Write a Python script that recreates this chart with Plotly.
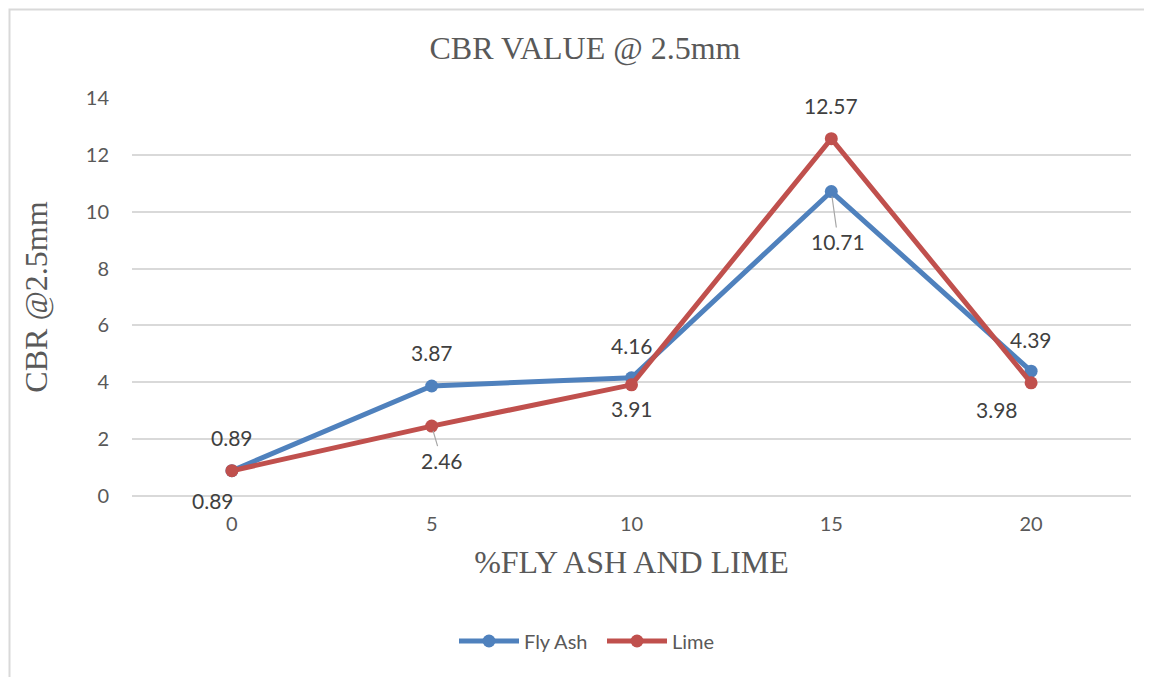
import plotly.graph_objects as go

categories = ["0", "5", "10", "15", "20"]
fly_ash = [0.89, 3.87, 4.16, 10.71, 4.39]
lime = [0.89, 2.46, 3.91, 12.57, 3.98]
y_ticks = [0, 2, 4, 6, 8, 10, 12, 14]

BLUE = "#4F81BD"
RED = "#C0504D"
TXT = "#595959"
LBL = "#404040"
SANS = "Lato, 'Open Sans', sans-serif"
SERIF = "'Liberation Serif', 'Times New Roman', serif"

OFF = 7  # page body offset
W, H = 1152, 677
PW, PH = 999, 398
ML, MT = 131 - OFF, 97 - OFF
MR, MB = W - ML - PW, H - MT - PH

fig = go.Figure()
fig.add_trace(go.Scatter(x=categories, y=fly_ash, name="Fly Ash", mode="lines+markers",
                         line=dict(color=BLUE, width=5), marker=dict(size=13, color=BLUE)))
fig.add_trace(go.Scatter(x=categories, y=lime, name="Lime", mode="lines+markers",
                         line=dict(color=RED, width=5), marker=dict(size=13, color=RED)))

# label offsets (xshift, yshift) or leader lines (ax, ay)
fa_style = [("s", 0, 33), ("s", 0, 33), ("s", 0, 32), ("a", 7, 50), ("s", 0, 32)]
li_style = [("s", -19, -30), ("a", 10, 34), ("s", 0, -24), ("s", 0, 33), ("s", -34, -27)]

annotations = []
for vals, styles in ((fly_ash, fa_style), (lime, li_style)):
    for i, (v, st) in enumerate(zip(vals, styles)):
        txt = f"{v:.2f}"
        if st[0] == "s":
            annotations.append(dict(x=i, y=v, text=txt, showarrow=False, xshift=st[1], yshift=st[2],
                                    font=dict(family=SANS, size=21, color=LBL)))
        else:
            annotations.append(dict(x=i, y=v, text=txt, showarrow=True, arrowhead=0, arrowwidth=1.2,
                                    arrowcolor="#A6A6A6", ax=st[1], ay=st[2], standoff=5, startstandoff=0,
                                    font=dict(family=SANS, size=21, color=LBL)))

def px_x(p):
    return (p - OFF - ML) / PW

def px_y(p):
    return (MT + PH - (p - OFF)) / PH

# border in figure pixel coords (1px inside the figure edge)
shapes = [dict(type="rect", xref="paper", yref="paper",
               x0=(1.5 - ML) / PW, x1=(W + 30 - ML) / PW, y0=-(MB + 30) / PH, y1=(MT + PH - 1.5) / PH,
               line=dict(color="#D9D9D9", width=2), fillcolor="rgba(0,0,0,0)", layer="below")]

fig.update_layout(
    width=W, height=H,
    margin=dict(l=ML, r=MR, t=MT, b=MB),
    paper_bgcolor="white", plot_bgcolor="white",
    title=dict(text="CBR VALUE @ 2.5mm", x=(584 - OFF) / W, xanchor="center", y=1 - (47 - OFF) / H,
               yanchor="middle", font=dict(family=SERIF, size=32, color=TXT)),
    xaxis=dict(type="category", range=[-0.5, 4.5], showgrid=False, showline=False, zeroline=False,
               ticks="", ticklabelstandoff=14, tickfont=dict(family=SANS, size=20, color=TXT),
               title=dict(text="%FLY ASH AND LIME", font=dict(family=SERIF, size=32, color=TXT), standoff=16)),
    yaxis=dict(range=[0, 14], tickvals=y_ticks, showgrid=True, gridcolor="#D9D9D9", gridwidth=1.5,
               zeroline=True, zerolinecolor="#D9D9D9", zerolinewidth=1.5, showline=False, ticks="",
               ticklabelstandoff=22,
               tickfont=dict(family=SANS, size=20, color=TXT),
               title=dict(text="CBR @2.5mm", font=dict(family=SERIF, size=32, color=TXT), standoff=28)),
    legend=dict(orientation="h", x=px_x(453), xanchor="left", y=px_y(640), yanchor="middle",
                font=dict(family=SANS, size=20, color=TXT), itemwidth=60, entrywidth=73),
    annotations=annotations,
    shapes=shapes,
)

fig.write_html("out.html")
